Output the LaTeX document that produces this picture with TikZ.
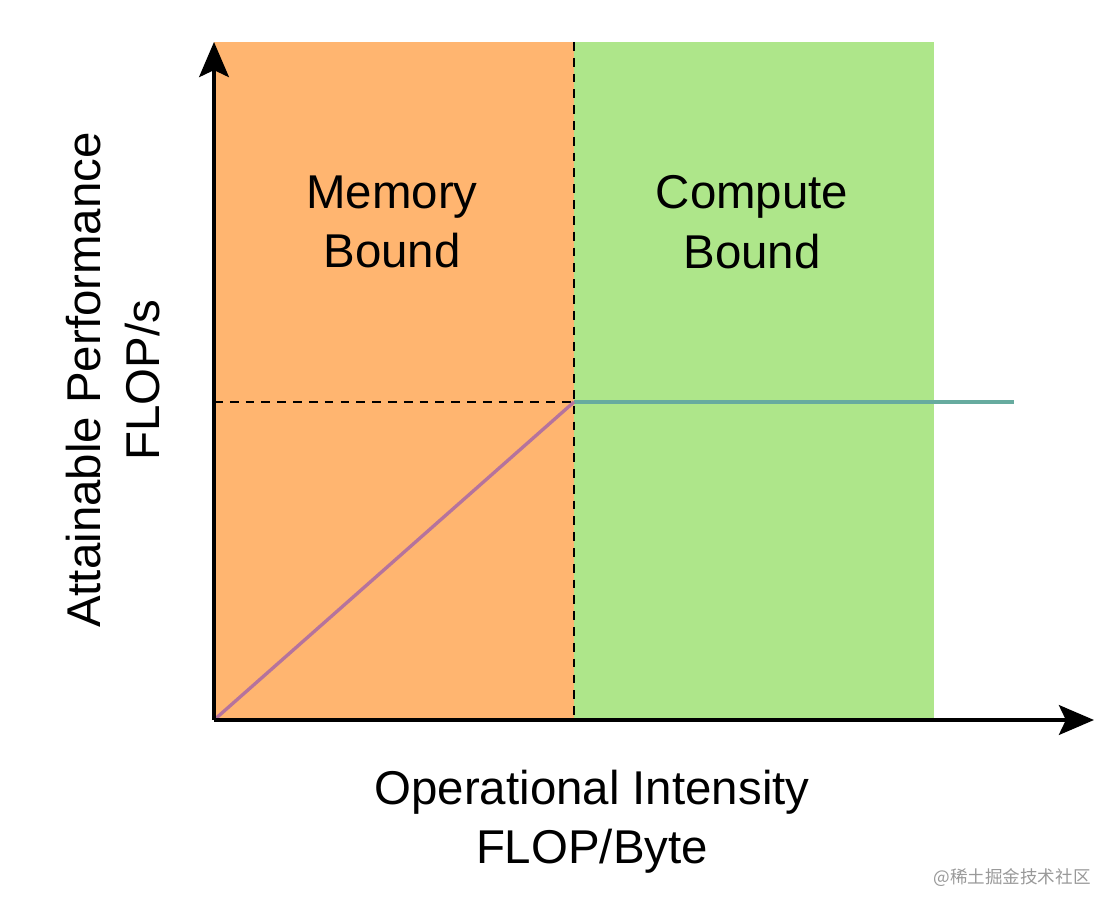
\documentclass[tikz,border=0pt]{standalone}
\usepackage{fontspec}
\setmainfont{Liberation Sans}
\newfontfamily\cjk{Noto Sans CJK SC}
\usetikzlibrary{arrows.meta,positioning}
\definecolor{memfill}{HTML}{FFB570}
\definecolor{compfill}{HTML}{AEE68A}
\definecolor{roofteal}{HTML}{67AB9F}
\definecolor{slopepurple}{HTML}{B5739D}
\begin{document}
\begin{tikzpicture}[
    x=0.02cm, y=-0.02cm,
    label/.style={align=center, font=\fontsize{27}{34}\selectfont},
    axislabel/.style={align=center, font=\fontsize{27}{33.5}\selectfont},
    axis/.style={-{Stealth[length=20pt, width=17pt, inset=4pt]}, line width=1.8pt},
    guide/.style={line width=1.6pt, dash pattern=on 5pt off 4pt}
]
    \useasboundingbox (0,0) rectangle (1116,912);
    % regions
    \fill[memfill] (214,42) rectangle (574,720);
    \fill[compfill] (574,42) rectangle (934,720);

    \coordinate (o) at (214,720);
    \coordinate (ytop) at (214,42);
    \coordinate (xend) at (1094,720);
    \coordinate (knee) at (574,402);
    \coordinate (kneebot) at (574,720);
    \coordinate (kneetop) at (574,42);
    \coordinate (kneeleft) at (214,402);
    \coordinate (roofend) at (1014,402);

    \draw[guide] (kneetop) -- (kneebot);
    \draw[guide] (kneeleft) -- (knee);
    \draw[roofteal, line width=1.9pt] (knee) -- (roofend);
    \draw[slopepurple, line width=1.9pt] (o) -- (knee);

    \draw[axis] (o) -- (ytop);
    \draw[axis] (o) -- (xend);

    \node[label] (mem) at (392,222) {Memory\\Bound};
    \node[label] (comp) at (752,222) {Compute\\Bound};
    \node[axislabel, rotate=90] (ylab) at (113,380) {Attainable Performance\\FLOP/s};
    \node[axislabel] (xlab) at (592,822) {Operational Intensity\\FLOP/Byte};
    \node[text=black!40, font=\cjk\fontsize{10}{12}\selectfont] (mark) at (1012,878) {@稀土掘金技术社区};
\end{tikzpicture}
\end{document}
